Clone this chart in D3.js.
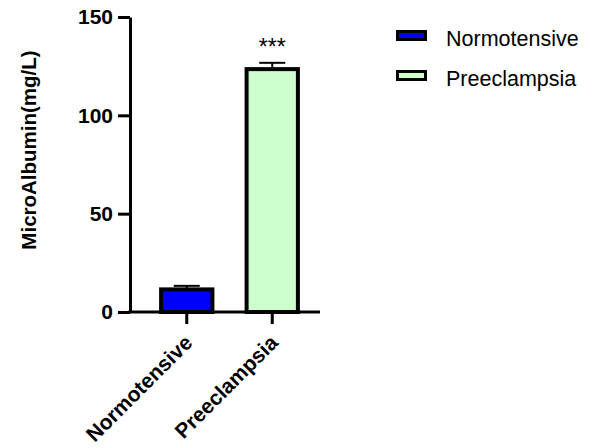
<!DOCTYPE html>
<html>
<head>
<meta charset="utf-8">
<script src="https://cdn.jsdelivr.net/npm/d3@7"></script>
<style>
  body { margin: 0; background: #fff; }
  text { font-family: "Liberation Sans", Arial, sans-serif; }
</style>
</head>
<body>
<svg width="592" height="448"></svg>
<script>
// данные графика
const groups = ["Normotensive", "Preeclampsia"];
const means = [11.5, 123.5];
const errs = [1.8, 3.2];
const colors = ["#0000ff", "#ccffcc"];
const yTicks = [0, 50, 100, 150];
const stars = ["", "***"];

const svg = d3.select("svg");
const x0 = 130, x1 = 320, yTop = 17, yBot = 312;

const y = d3.scaleLinear().domain([0, 150]).range([yBot, yTop]);
const x = d3.scaleBand().domain(groups).range([144, 315])
  .paddingInner(0.4).paddingOuter(0.2);

// ось Y
const yAxis = svg.append("g")
  .attr("transform", `translate(${x0},0)`)
  .call(d3.axisLeft(y).tickValues(yTicks).tickSize(12).tickSizeOuter(0));
yAxis.select(".domain").attr("stroke", "#000").attr("stroke-width", 3);
yAxis.selectAll(".tick line").attr("stroke", "#000").attr("stroke-width", 3);
yAxis.selectAll(".tick text")
  .attr("x", -17).attr("font-size", 21).attr("font-weight", "bold").attr("fill", "#000")
  .attr("font-family", "'Liberation Sans', Arial, sans-serif");

// ось X
svg.append("line")
  .attr("x1", x0 - 1.5).attr("x2", x1).attr("y1", yBot).attr("y2", yBot)
  .attr("stroke", "#000").attr("stroke-width", 3);

const xTick = svg.selectAll(".xt").data(groups).enter().append("g")
  .attr("transform", d => `translate(${x(d) + x.bandwidth() / 2},${yBot})`);
xTick.append("line").attr("y1", 0).attr("y2", 12)
  .attr("stroke", "#000").attr("stroke-width", 3);
xTick.append("text")
  .attr("transform", "translate(7,32) rotate(-45)")
  .attr("text-anchor", "end")
  .attr("font-size", 21).attr("font-weight", "bold")
  .text(d => d);

// столбцы
svg.selectAll(".bar").data(groups).enter().append("rect")
  .attr("x", d => x(d))
  .attr("y", (d, i) => y(means[i]))
  .attr("width", x.bandwidth())
  .attr("height", (d, i) => yBot - y(means[i]))
  .attr("fill", (d, i) => colors[i])
  .attr("stroke", "#000").attr("stroke-width", 4);

// планки погрешностей
groups.forEach((g, i) => {
  const cx = x(g) + x.bandwidth() / 2;
  const top = y(means[i] + errs[i]);
  svg.append("line")
    .attr("x1", cx).attr("x2", cx).attr("y1", y(means[i])).attr("y2", top)
    .attr("stroke", "#000").attr("stroke-width", 2);
  svg.append("line")
    .attr("x1", cx - 13).attr("x2", cx + 13).attr("y1", top).attr("y2", top)
    .attr("stroke", "#000").attr("stroke-width", 2);
  svg.append("text")
    .attr("x", cx).attr("y", top - 8)
    .attr("text-anchor", "middle").attr("font-size", 23)
    .text(stars[i]);
});

// подпись оси Y
svg.append("text")
  .attr("transform", `translate(36,${(48 + 252) / 2}) rotate(-90)`)
  .attr("text-anchor", "middle")
  .attr("font-size", 20.5).attr("font-weight", "bold")
  .text("MicroAlbumin(mg/L)");

// легенда
const leg = svg.selectAll(".leg").data(groups).enter().append("g")
  .attr("transform", (d, i) => `translate(397.5,${31.5 + i * 40})`);
leg.append("rect").attr("width", 28).attr("height", 8)
  .attr("fill", (d, i) => colors[i]).attr("stroke", "#000").attr("stroke-width", 3);
leg.append("text").attr("x", 48.5).attr("y", 14.5)
  .attr("font-size", 21.5).text(d => d);
</script>
</body>
</html>
